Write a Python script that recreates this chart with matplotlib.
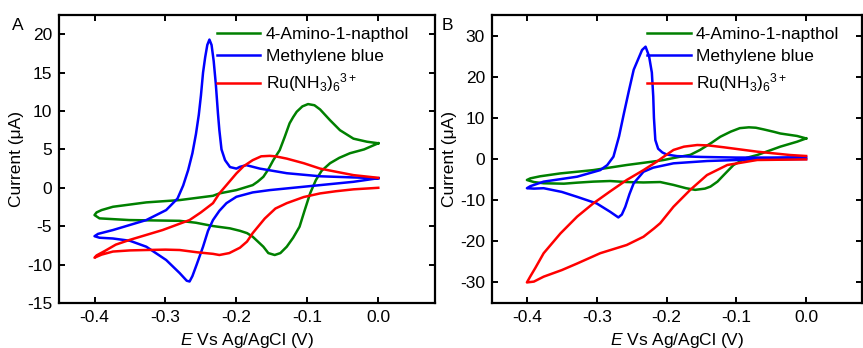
# Cyclic voltammograms of three redox reporters, two panels
import matplotlib
matplotlib.use('Agg')
import matplotlib.pyplot as plt

plt.rcParams['font.family'] = ['Liberation Sans', 'DejaVu Sans']
plt.rcParams['mathtext.fontset'] = 'custom'
plt.rcParams['mathtext.rm'] = 'Liberation Sans'
plt.rcParams['mathtext.it'] = 'Liberation Sans:italic'
plt.rcParams['axes.unicode_minus'] = False

# Legend labels and colours
labels = ['4-Amino-1-napthol', 'Methylene blue', r'Ru(NH$_3$)$_6$$^{3+}$']
colors = ['#008000', '#0000ff', '#ff0000']

a_amino_E = [0.0, -0.016, -0.035, -0.054, -0.068, -0.082, -0.09, -0.099, -0.107, -0.115, -0.12,
             -0.125, -0.132, -0.139, -0.148, -0.155, -0.162, -0.17, -0.177, -0.2, -0.224, -0.233,
             -0.28, -0.327, -0.374, -0.39, -0.397, -0.4, -0.393, -0.351, -0.28, -0.257, -0.233,
             -0.209, -0.195, -0.185, -0.177, -0.162, -0.155, -0.146, -0.138, -0.129, -0.12, -0.111,
             -0.104, -0.096, -0.088, -0.08, -0.068, -0.055, -0.04, -0.02, 0.0]
a_amino_I = [5.8, 6.0, 6.4, 7.5, 8.8, 10.2, 10.75, 10.9, 10.6, 9.9, 9.2,
             8.4, 6.6, 4.9, 3.6, 2.4, 1.43, 0.8, 0.35, -0.3, -0.73, -1.04,
             -1.6, -1.9, -2.47, -2.9, -3.2, -3.55, -3.98, -4.2, -4.3, -4.55, -4.98,
             -5.28, -5.6, -5.9, -6.37, -7.67, -8.5, -8.75, -8.5, -7.67, -6.5, -5.07,
             -3.0, -0.7, 1.0, 2.2, 3.2, 3.9, 4.5, 5.0, 5.8]

a_mb_E = [0.0, -0.035, -0.082, -0.129, -0.167, -0.186, -0.195, -0.2, -0.209, -0.216, -0.221,
          -0.224, -0.226, -0.229, -0.232, -0.235, -0.238, -0.241, -0.244, -0.247, -0.25, -0.253,
          -0.257, -0.262, -0.268, -0.275, -0.283, -0.299, -0.327, -0.374, -0.395, -0.4, -0.393,
          -0.374, -0.35, -0.327, -0.299, -0.28, -0.27, -0.266, -0.262, -0.256, -0.247, -0.24,
          -0.233, -0.224, -0.214, -0.2, -0.177, -0.153, -0.082, -0.035, 0.0]
a_mb_I = [1.25, 1.35, 1.5, 1.9, 2.5, 2.95, 2.73, 2.5, 2.7, 3.6, 5.0,
          7.5, 9.7, 13.5, 16.5, 18.6, 19.3, 18.6, 17.0, 15.0, 12.0, 9.5,
          7.0, 4.5, 2.3, 0.3, -1.4, -2.9, -4.2, -5.5, -6.0, -6.3, -6.5,
          -6.6, -6.9, -7.67, -9.4, -11.1, -12.1, -12.2, -11.5, -10.0, -7.67, -5.6,
          -4.2, -3.0, -2.0, -1.17, -0.6, -0.3, 0.35, 0.78, 1.25]

a_ru_E = [0.0, -0.035, -0.06, -0.082, -0.105, -0.129, -0.145, -0.153, -0.165, -0.177, -0.19,
          -0.2, -0.214, -0.224, -0.233, -0.25, -0.266, -0.304, -0.351, -0.37, -0.385, -0.397,
          -0.4, -0.39, -0.374, -0.35, -0.327, -0.3, -0.28, -0.255, -0.233, -0.224, -0.21,
          -0.195, -0.185, -0.177, -0.16, -0.145, -0.129, -0.105, -0.082, -0.06, -0.035, 0.0]
a_ru_I = [1.3, 1.65, 2.1, 2.5, 3.2, 3.8, 4.1, 4.16, 4.1, 3.6, 2.8,
          1.87, 0.35, -0.73, -2.0, -3.2, -4.2, -5.5, -6.8, -7.4, -8.2, -8.8,
          -9.1, -8.7, -8.3, -8.15, -8.1, -8.05, -8.1, -8.4, -8.6, -8.75, -8.5,
          -7.8, -7.0, -5.9, -4.0, -2.7, -2.0, -1.2, -0.73, -0.45, -0.2, 0.0]

# Panel B
b_amino_E = [0.0, -0.013, -0.037, -0.046, -0.061, -0.072, -0.082, -0.095, -0.108, -0.123, -0.135,
             -0.152, -0.166, -0.18, -0.204, -0.214, -0.257, -0.305, -0.352, -0.381, -0.395, -0.4,
             -0.39, -0.376, -0.347, -0.328, -0.305, -0.281, -0.257, -0.233, -0.209, -0.19, -0.172,
             -0.159, -0.145, -0.137, -0.127, -0.118, -0.104, -0.085, -0.07, -0.037, -0.013, 0.0]
b_amino_I = [5.0, 5.6, 6.2, 6.6, 7.2, 7.6, 7.7, 7.5, 6.65, 5.4, 4.0,
             2.2, 1.0, 0.57, -0.24, -0.5, -1.46, -2.7, -3.5, -4.2, -4.7, -5.1,
             -5.6, -5.9, -6.0, -5.75, -5.5, -5.35, -5.6, -5.7, -5.6, -6.3, -7.1,
             -7.5, -7.2, -6.7, -5.5, -3.9, -1.46, 0.3, 0.97, 3.0, 4.2, 5.0]

b_mb_E = [0.0, -0.05, -0.1, -0.15, -0.185, -0.2, -0.206, -0.212, -0.216, -0.218, -0.219,
          -0.221, -0.225, -0.23, -0.235, -0.24, -0.247, -0.254, -0.261, -0.268, -0.276, -0.285,
          -0.295, -0.328, -0.376, -0.395, -0.4, -0.39, -0.376, -0.35, -0.328, -0.3, -0.281,
          -0.269, -0.264, -0.259, -0.253, -0.247, -0.233, -0.219, -0.19, -0.142, -0.07, 0.0]
b_mb_I = [0.45, 0.35, 0.35, 0.5, 0.7, 1.1, 1.6, 2.5, 4.6, 10.0, 15.2,
          21.0, 25.0, 27.3, 26.5, 24.5, 21.7, 16.5, 11.1, 5.5, 0.57, -1.5,
          -2.7, -4.3, -5.5, -6.6, -7.1, -7.2, -7.1, -8.0, -9.2, -10.8, -12.8,
          -14.2, -13.5, -11.6, -8.5, -5.9, -3.1, -2.1, -1.05, -0.49, -0.08, 0.0]

b_ru_E = [0.0, -0.023, -0.07, -0.118, -0.14, -0.156, -0.175, -0.19, -0.202, -0.214, -0.233,
          -0.257, -0.281, -0.305, -0.328, -0.352, -0.376, -0.388, -0.395, -0.4, -0.39, -0.376,
          -0.35, -0.328, -0.295, -0.257, -0.233, -0.218, -0.209, -0.19, -0.166, -0.142, -0.113,
          -0.07, 0.0]
b_ru_I = [0.73, 0.97, 1.78, 2.85, 3.3, 3.4, 3.0, 2.2, 0.8, -0.65, -2.7,
          -5.1, -7.9, -10.8, -14.0, -18.1, -22.9, -26.5, -28.5, -30.0, -29.8, -28.6,
          -27.0, -25.4, -22.9, -20.9, -18.9, -16.9, -15.6, -11.6, -7.5, -3.9, -1.46,
          -0.24, -0.1]

panels = {
	'A': dict(E=[a_amino_E, a_mb_E, a_ru_E], I=[a_amino_I, a_mb_I, a_ru_I],
	          yticks=[-15, -10, -5, 0, 5, 10, 15, 20], ylim=(-15, 22.5)),
	'B': dict(E=[b_amino_E, b_mb_E, b_ru_E], I=[b_amino_I, b_mb_I, b_ru_I],
	          yticks=[-30, -20, -10, 0, 10, 20, 30], ylim=(-35, 35)),
}
xticks = [-0.4, -0.3, -0.2, -0.1, 0.0]

fig = plt.figure(figsize=(8.63, 3.48), dpi=100)
boxes = {'A': [0.0684, 0.1293, 0.4357, 0.8276], 'B': [0.5701, 0.1293, 0.4287, 0.8276]}
letter_x = {'A': 0.014, 'B': 0.512}

for name, p in panels.items():
	ax = fig.add_axes(boxes[name])
	for E, I, c, lab in zip(p['E'], p['I'], colors, labels):
		ax.plot(E, I, color=c, lw=1.8, label=lab, solid_joinstyle='round')
	ax.set_xlim(-0.45, 0.08)
	ax.set_ylim(*p['ylim'])
	ax.set_xticks(xticks)
	ax.set_xticklabels(['%.1f' % t for t in xticks])
	ax.set_yticks(p['yticks'])
	ax.tick_params(direction='in', length=4, width=1.4, labelsize=12.5, pad=5,
	               top=True, right=True)
	for s in ax.spines.values():
		s.set_linewidth(1.6)
	ax.set_xlabel(r'$E$ Vs Ag/AgCl (V)', fontsize=12.5, labelpad=4)
	ax.set_ylabel(u'Current (\u03bcA)', fontsize=12.5, labelpad=2)
	ax.legend(loc='upper left', bbox_to_anchor=(0.42, 0.96), frameon=False, fontsize=12.5,
	          handlelength=2.5, handletextpad=0.3, labelspacing=0.42, borderpad=0, borderaxespad=0)
	fig.text(letter_x[name], 0.915, name, fontsize=12.5)

fig.savefig('out.png', dpi=100)
